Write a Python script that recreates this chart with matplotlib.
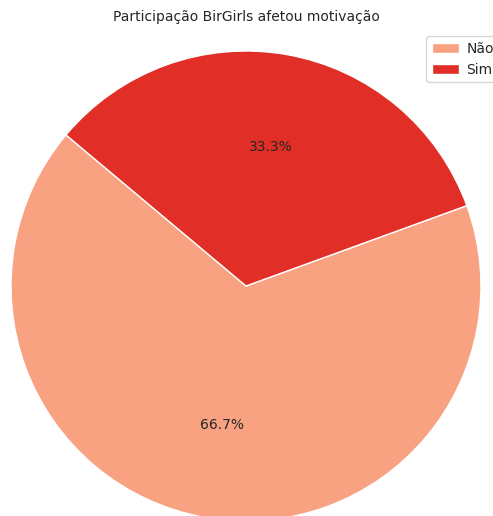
import matplotlib.pyplot as plt

# respostas: a participação no BirGirls afetou a motivação?
labels = ['Não', 'Sim']
counts = [2, 1]
colors = ['#F9A282', '#E12E26']

plt.rcParams['font.family'] = ['DejaVu Sans']
plt.rcParams['text.color'] = '#262626'

fig = plt.figure(figsize=(4.93, 5.16), dpi=100)
ax = fig.add_axes([11 / 493, -5 / 516, 470 / 493, 470 / 516])

wedges, texts, autotexts = ax.pie(
    counts, colors=colors, autopct='%1.1f%%', startangle=140,
    wedgeprops={'edgecolor': 'white', 'linewidth': 1},
    textprops={'fontsize': 10, 'color': '#262626'})
ax.set_xlim(-1, 1)
ax.set_ylim(-1, 1)
ax.set_aspect('equal')

fig.text(246 / 493, 1 - 17 / 516, 'Participação BirGirls afetou motivação',
         ha='center', va='center', fontsize=10, color='#262626')

fig.legend(wedges, labels, loc='upper left', bbox_to_anchor=(426 / 493, 1 - 36 / 516),
           fontsize=10, frameon=True, edgecolor='#cccccc', borderaxespad=0,
           handletextpad=0.5)

fig.savefig('out.png', dpi=100)
